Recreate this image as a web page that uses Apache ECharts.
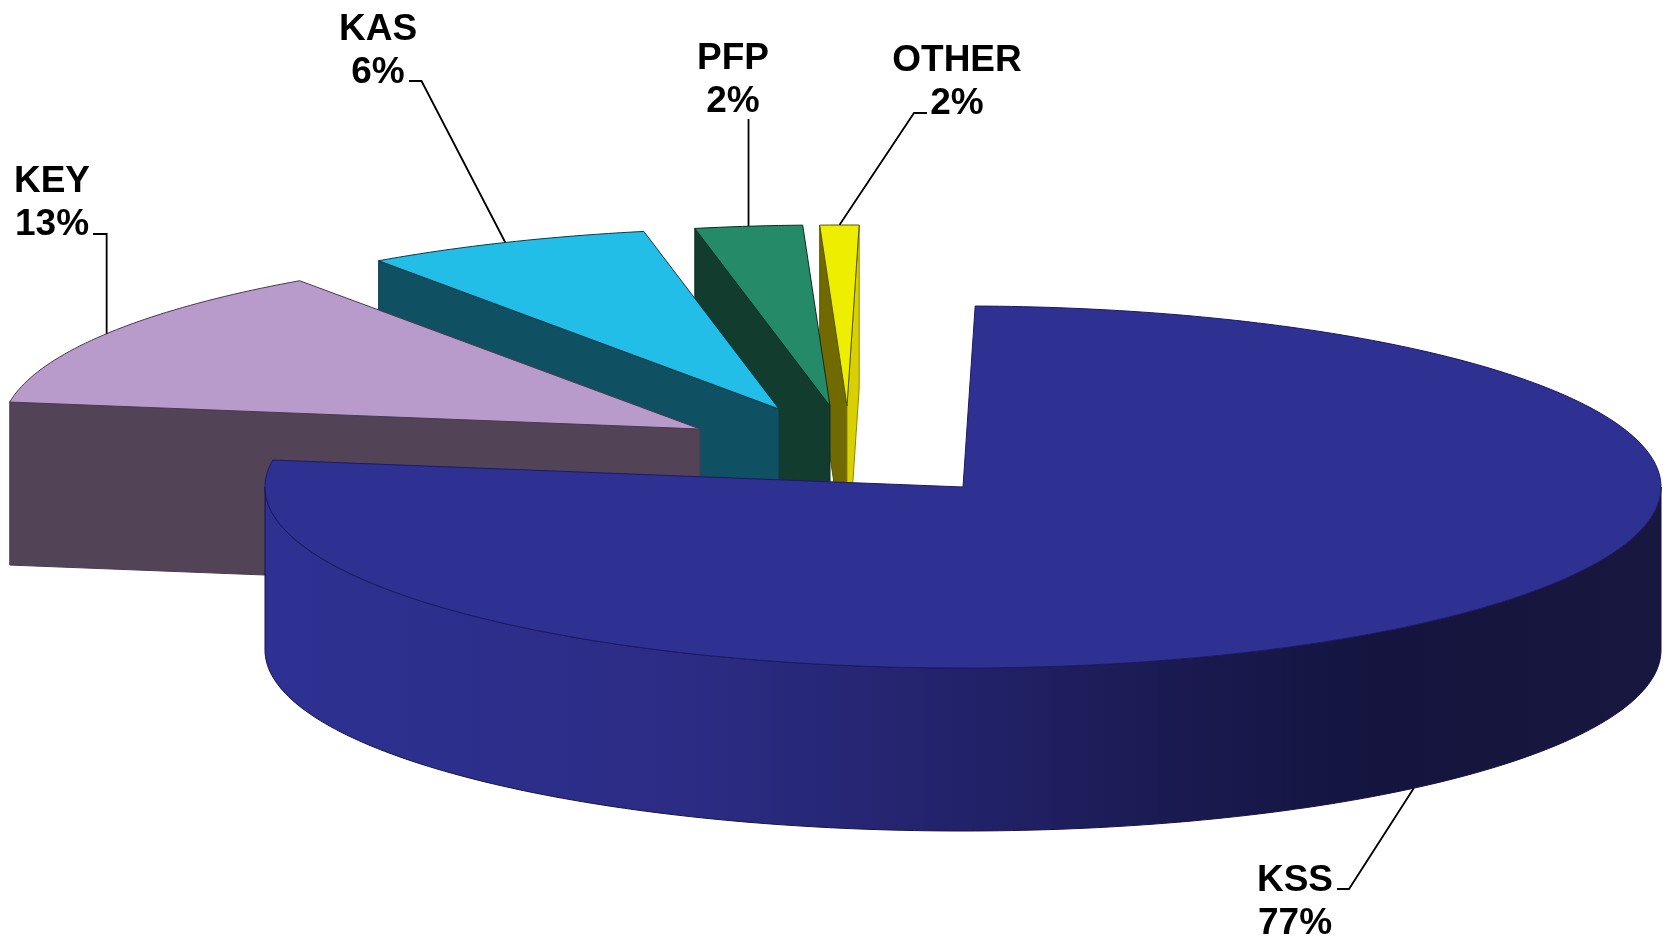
<!DOCTYPE html>
<html>
<head>
<meta charset="utf-8">
<style>html,body{margin:0;padding:0;background:#fff}#c{width:1669px;height:937px}</style>
<script src="https://cdn.jsdelivr.net/npm/echarts@6/dist/echarts.min.js"></script>
</head>
<body>
<div id="c"></div>
<script>
// Data
var categories = ['KSS', 'KEY', 'KAS', 'PFP', 'OTHER'];
// Percentages as printed on the labels
var printedPercent = [77, 13, 6, 2, 2];
// Share of the circle each wedge actually occupies in the picture (measured from its rim;
// the reference's thin OTHER wedge is narrower than its printed 2%)
var drawnShare = [77.1, 12.9, 6.62, 2.48, 0.9];

// Layout and style
var startAngle = 1;
var cx = 963, cy = 487, rx = 698, ry = 181, depth = 163;
var explodeX = [0, -263, -184, -133, -116];
var explodeY = [0, -58, -78, -81, -81];
var topColors = ['#2E3191', '#B89ACB', '#22BEE8', '#248A68', '#EEEE00'];
var cutColors = ['#2E3191', '#524356', '#0F5062', '#123C2D', '#716A00'];
var endCutColor = '#D8D000';
var edgeColors = ['#1A1A66', '#4A3A55', '#0A3A4A', '#0B2E22', '#5A5500'];
var labelX = [1295, 52, 378, 733, 957];
var labelY = [902, 203, 51, 80, 82];
var leaderElbowX = [1349, null, 421.5, null, 914];
var leaderElbowY = [889, 234, 81, 119, 113];
var leaderEndX = [1337, 93, 409, null, 927];
var leaderEndY = [889, 234, 81, 119, 113];

var total = drawnShare.reduce(function (a, b) { return a + b; }, 0);
var startDeg = [], endDeg = [];
drawnShare.reduce(function (acc, v, i) {
  startDeg[i] = acc;
  endDeg[i] = acc + v / total * 360;
  return endDeg[i];
}, startAngle);

function rimPoint(ax, ay, deg, drop) {
  var t = deg * Math.PI / 180;
  return [ax + rx * Math.sin(t), ay - ry * Math.cos(t) + (drop || 0)];
}
function arc(ax, ay, from, to, drop) {
  var pts = [], n = Math.max(2, Math.ceil(Math.abs(to - from)));
  for (var k = 0; k <= n; k++) pts.push(rimPoint(ax, ay, from + (to - from) * k / n, drop));
  return pts;
}
function cutWall(ax, ay, deg) {
  var r = rimPoint(ax, ay, deg);
  return [[ax, ay], r, [r[0], r[1] + depth], [ax, ay + depth]];
}

function renderItem(params, api) {
  var i = api.value(0);
  var ax = cx + explodeX[i], ay = cy + explodeY[i];
  var a = startDeg[i], b = endDeg[i], mid = (a + b) / 2;
  var rank = (categories.length - i) * 10;
  var kids = [];
  function poly(points, fill, stroke, lw, z) {
    kids.push({
      type: 'polygon', shape: { points: points }, z2: rank + z,
      style: { fill: fill, stroke: stroke, lineWidth: lw, lineJoin: 'round' }
    });
  }
  // Radial cut faces turned towards the viewer
  if (Math.sin(a * Math.PI / 180) < 0) poly(cutWall(ax, ay, a), cutColors[i], edgeColors[i], 1, 0);
  if (Math.sin(b * Math.PI / 180) > 0 && b > 360) poly(cutWall(ax, ay, b), endCutColor, '#8F8A00', 1, 0);
  // Outer wall on the front half of the rim
  var f0 = Math.max(a, 90), f1 = Math.min(b, 270);
  if (f1 > f0) {
    var wall = arc(ax, ay, f0, f1, 0).concat(arc(ax, ay, f1, f0, depth));
    poly(wall, new echarts.graphic.LinearGradient(1, 0, 0, 0, [
      { offset: 0, color: '#17173F' },
      { offset: 0.2, color: '#14143E' },
      { offset: 0.35, color: '#1A1A52' },
      { offset: 0.5, color: '#22226A' },
      { offset: 0.7, color: '#2C2C85' },
      { offset: 1, color: '#2E3192' }
    ]), '#14144A', 1, 1);
  }
  // Top face
  poly([[ax, ay]].concat(arc(ax, ay, a, b, 0)), topColors[i], edgeColors[i], 1, 2);
  // Leader line starting on the wedge's rim at its mid angle
  var onFront = mid > 90 && mid < 270;
  var r = rimPoint(ax, ay, mid, onFront ? depth : 0);
  var ex = leaderElbowX[i] === null ? r[0] : leaderElbowX[i];
  var tx = leaderEndX[i] === null ? ex : leaderEndX[i];
  kids.push({
    type: 'polyline', z2: rank + 3,
    shape: { points: [r, [ex, leaderElbowY[i]], [tx, leaderEndY[i]]] },
    style: { fill: null, stroke: '#000', lineWidth: 1.8 }
  });
  kids.push({
    type: 'text', z2: 200, x: labelX[i], y: labelY[i],
    style: {
      text: categories[i] + '\n' + printedPercent[i] + '%',
      fill: '#000', font: 'bold 37px "Liberation Sans", Arial, sans-serif',
      lineHeight: 43, align: 'center', verticalAlign: 'middle'
    }
  });
  return { type: 'group', children: kids };
}

var chart = echarts.init(document.getElementById('c'), null, { renderer: 'canvas' });
chart.setOption({
  backgroundColor: '#ffffff',
  animation: false,
  series: [{
    type: 'custom',
    coordinateSystem: 'none',
    silent: true,
    clip: false,
    renderItem: renderItem,
    // painted back to front: small far wedges first, KSS last
    data: categories.map(function (c, i) { return [i, drawnShare[i], printedPercent[i]]; }).reverse()
  }]
});
</script>
</body>
</html>
